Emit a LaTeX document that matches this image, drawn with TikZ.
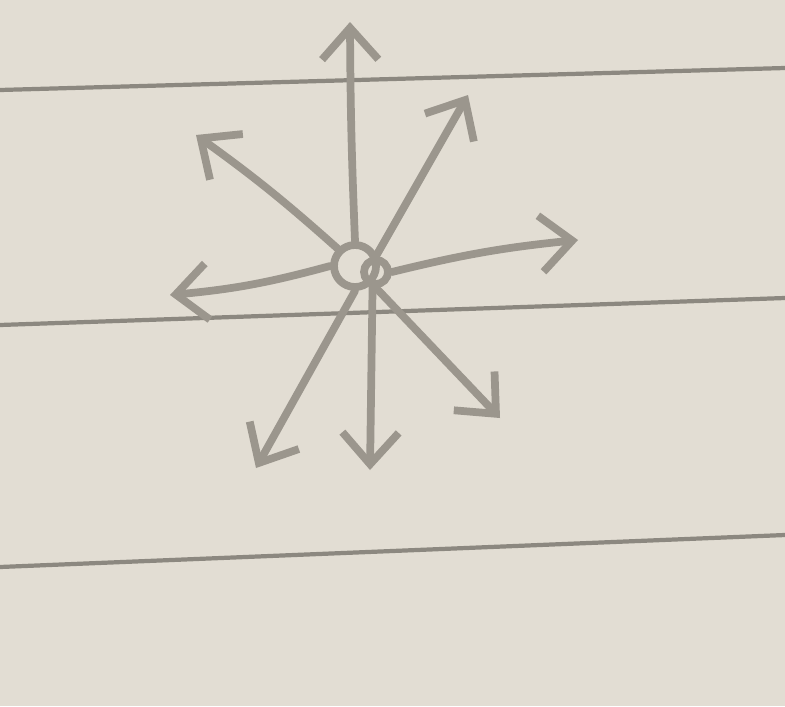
\documentclass[tikz,border=0pt]{standalone}
\usetikzlibrary{positioning}
\usetikzlibrary{calc}
\usetikzlibrary{arrows.meta}
\definecolor{paper}{RGB}{226,221,211}
\definecolor{pencil}{RGB}{155,150,141}
\definecolor{rule}{RGB}{140,136,128}
\tikzset{
  stroke/.style={draw=pencil,line width=2.2pt,line cap=round,-{Straight Barb[length=9pt,width=16pt,line width=2.2pt]}},
  ruleline/.style={draw=rule,line width=1.2pt},
  hub/.style={circle,draw=pencil,line width=2.2pt,inner sep=0pt},
}
\begin{document}
\begin{tikzpicture}[x=0.01cm,y=-0.01cm]
            \fill[paper] (0,0) rectangle (785,706);
            \useasboundingbox (0,0) rectangle (785,706);
            \draw[ruleline] (0,90) -- (785,68);
            \draw[ruleline] (0,325) -- (785,298);
            \draw[ruleline] (0,567) -- (785,535);
            \node[hub,minimum size=0.42cm] (C) at (355,266) {};
            \node[hub,minimum size=0.24cm] (D) at (376,272) {};
            \coordinate (N) at (350,22);
            \coordinate (NE) at (468,95);
            \coordinate (NW) at (196,135);
            \coordinate (W) at (170,295);
            \coordinate (E) at (578,240);
            \coordinate (SW) at (256,468);
            \coordinate (S) at (370,470);
            \coordinate (SE) at (500,418);
            \draw[stroke] (C.north) to[bend left=1] (N);
            \draw[stroke] (D.north) -- (NE);
            \draw[stroke] (C.north west) to[bend right=3] (NW);
            \draw[stroke] (C.west) to[bend left=5] (W);
            \draw[stroke] (D.east) to[bend left=4] (E);
            \draw[stroke] (C.south) -- (SW);
            \draw[stroke] (C.south east) -- (S);
            \draw[stroke] (D.south) -- (SE);
        \end{tikzpicture}
\end{document}
